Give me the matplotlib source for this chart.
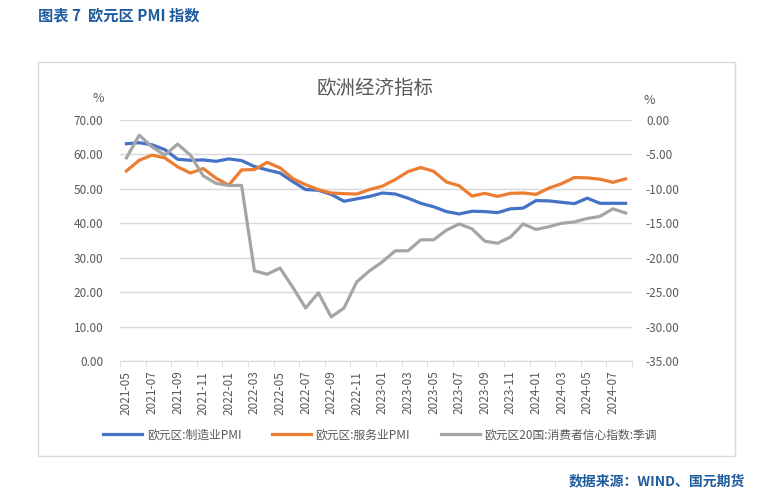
import numpy as np
import matplotlib.pyplot as plt
from matplotlib.patches import Rectangle

plt.rcParams['font.family'] = ['Noto Sans CJK SC', 'DejaVu Sans']

# monthly, 2021-05 .. 2024-08
months = [f"{y}-{m:02d}" for y in range(2021, 2025) for m in range(1, 13)]
months = months[4:4 + 40]

manuf_pmi = [63.1, 63.4, 62.8, 61.4, 58.6, 58.3, 58.4, 58.0, 58.7, 58.2,
             56.5, 55.5, 54.6, 52.1, 49.8, 49.6, 48.4, 46.4, 47.1, 47.8,
             48.8, 48.5, 47.3, 45.8, 44.8, 43.4, 42.7, 43.5, 43.4, 43.1,
             44.2, 44.4, 46.6, 46.5, 46.1, 45.7, 47.3, 45.8, 45.8, 45.8]
service_pmi = [55.2, 58.3, 59.8, 59.0, 56.4, 54.6, 55.9, 53.1, 51.1, 55.5,
               55.6, 57.7, 56.1, 53.0, 51.2, 49.8, 48.8, 48.6, 48.5, 49.8,
               50.8, 52.7, 55.0, 56.2, 55.1, 52.0, 50.9, 47.9, 48.7, 47.8,
               48.7, 48.8, 48.4, 50.2, 51.5, 53.3, 53.2, 52.8, 51.9, 52.9]
consumer_conf = [-5.5, -2.2, -3.9, -5.1, -3.5, -5.1, -8.1, -9.2, -9.5, -9.5,
                 -21.9, -22.4, -21.5, -24.3, -27.3, -25.1, -28.6, -27.3, -23.5, -21.9,
                 -20.6, -19.0, -19.0, -17.4, -17.4, -16.0, -15.1, -15.8, -17.6, -17.9,
                 -17.0, -15.1, -15.9, -15.5, -15.0, -14.8, -14.3, -14.0, -12.9, -13.5]

labels = ['欧元区:制造业PMI', '欧元区:服务业PMI', '欧元区20国:消费者信心指数:季调']
colors = ['#4472C4', '#ED7D31', '#A5A5A5']

fig = plt.figure(figsize=(7.74, 4.95), dpi=100)
ax = fig.add_axes([120 / 774, 1 - 361 / 495, 512 / 774, 241 / 495])
ax2 = ax.twinx()

x = np.arange(len(months))
l1, = ax.plot(x, manuf_pmi, color=colors[0], lw=2.3, zorder=3)
l2, = ax.plot(x, service_pmi, color=colors[1], lw=2.3, zorder=3)
l3, = ax2.plot(x, consumer_conf, color=colors[2], lw=2.3, zorder=2)

grid_c = '#D9D9D9'
text_c = '#595959'
ax.set_xlim(-0.5, len(months) - 0.5)
ax.set_ylim(0, 70)
ax.set_yticks(np.arange(0, 71, 10))
ax.set_yticklabels([f"{v:.2f}" for v in range(0, 71, 10)])
ax2.set_ylim(-35, 0)
ax2.set_yticks(np.arange(-35, 1, 5))
ax2.set_yticklabels([f"{v:.2f}" for v in range(-35, 1, 5)])
ax.grid(axis='y', color=grid_c, lw=1)
ax.set_axisbelow(True)

ax.set_xticks(x[::2])
ax.set_xticklabels(months[::2], rotation=90)
ax.set_xticks(np.arange(-0.5, len(months), 2), minor=True)
ax.tick_params(axis='x', which='major', length=0, labelsize=8.5, colors=text_c, pad=7)
ax.tick_params(axis='x', which='minor', length=4, color=grid_c)
ax.tick_params(axis='y', length=0, labelsize=8.5, colors=text_c, pad=12)
ax2.tick_params(axis='y', length=0, labelsize=8.5, colors=text_c, pad=10)

for a in (ax, ax2):
    for s in ['top', 'left', 'right']:
        a.spines[s].set_visible(False)
    a.spines['bottom'].set_color(grid_c)

fig.text(98 / 774, 1 - 98 / 495, '%', fontsize=9, color=text_c, ha='center', va='center')
fig.text(649 / 774, 1 - 100 / 495, '%', fontsize=9, color=text_c, ha='center', va='center')
fig.text(375 / 774, 1 - 88 / 495, '欧洲经济指标', fontsize=14, color=text_c, ha='center', va='center')

fig.legend([l1, l2, l3], labels, loc='center', ncol=3, frameon=False,
           bbox_to_anchor=(380 / 774, 1 - 435 / 495), fontsize=8.5,
           handlelength=3.3, columnspacing=2.6, handletextpad=0.4, labelcolor=text_c)

fig.patches.append(Rectangle((38 / 774, 1 - 456 / 495), 697 / 774, 394 / 495,
                             transform=fig.transFigure, fill=False, edgecolor=grid_c, lw=1))

blue = '#1F5C9E'
fig.text(38 / 774, 1 - 15 / 495, '图表 7  欧元区 PMI 指数', fontsize=11, color=blue,
         fontweight='bold', ha='left', va='center')
fig.text(745 / 774, 1 - 481 / 495, '数据来源：WIND、国元期货', fontsize=10, color=blue,
         fontweight='bold', ha='right', va='center')

fig.savefig('out.png', dpi=100)
